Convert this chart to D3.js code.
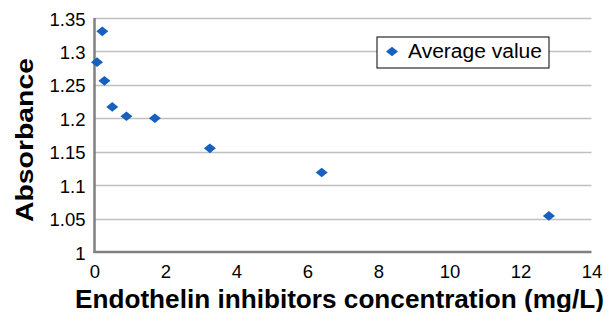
<!DOCTYPE html>
<html><head><meta charset="utf-8">
<script src="https://cdn.jsdelivr.net/npm/d3@7"></script>
<style>body{margin:0;background:#fff}svg{display:block}</style>
</head><body>
<svg id="c" width="610" height="312"></svg>
<script>
const xValues = [0.07, 0.22, 0.28, 0.5, 0.9, 1.7, 3.25, 6.4, 12.8];
const yValues = [1.284, 1.33, 1.256, 1.217, 1.203, 1.2, 1.155, 1.119, 1.054];
const xTicks = [0, 2, 4, 6, 8, 10, 12, 14];
const yTicks = [1, 1.05, 1.1, 1.15, 1.2, 1.25, 1.3, 1.35];
const seriesName = "Average value";
const xTitle = "Endothelin inhibitors concentration (mg/L)";
const yTitle = "Absorbance";

const svg = d3.select("#c");
const L = 94.5, R = 591.5, T = 18, B = 252;
const x = d3.scaleLinear().domain([0, 14]).range([L, R]);
const y = d3.scaleLinear().domain([1, 1.35]).range([B, T]);
const font = "Liberation Sans, Arial, sans-serif";

// gridlines
svg.append("g").selectAll("line").data(yTicks.slice(1)).join("line")
  .attr("x1", L).attr("x2", R)
  .attr("y1", d => Math.round(y(d)) + 0.5).attr("y2", d => Math.round(y(d)) + 0.5)
  .attr("stroke", "#c0c0c0").attr("stroke-width", 1.5);

// axes
const yAxis = svg.append("g").attr("transform", `translate(${L},0)`)
  .call(d3.axisLeft(y).tickValues(yTicks).tickSize(0).tickPadding(9).tickFormat(d => String(+d.toFixed(2))));
const xAxis = svg.append("g").attr("transform", `translate(0,${B})`)
  .call(d3.axisBottom(x).tickValues(xTicks).tickSize(0).tickPadding(0));
[yAxis, xAxis].forEach(g => {
  g.select(".domain").remove();
  g.selectAll("text").attr("font-family", font).attr("font-size", 18.5).attr("fill", "#000");
});
yAxis.selectAll("text").attr("dy", null).attr("y", 7);
xAxis.selectAll("text").attr("dy", null).attr("y", 25.5);
svg.append("line").attr("x1", L).attr("x2", L).attr("y1", T).attr("y2", B + 1)
  .attr("stroke", "#808080").attr("stroke-width", 2.5);
svg.append("line").attr("x1", L - 1).attr("x2", R).attr("y1", B).attr("y2", B)
  .attr("stroke", "#808080").attr("stroke-width", 2.5);

// diamonds
const diamond = d3.symbol().type(d3.symbolDiamond2).size(76)();
svg.append("g").selectAll("path").data(xValues.map((d, i) => [d, yValues[i]])).join("path")
  .attr("d", diamond)
  .attr("transform", d => `translate(${x(d[0])},${y(d[1])}) scale(1.1,0.88)`)
  .attr("fill", "#1760be");

// legend
const lg = svg.append("g");
lg.append("rect").attr("x", 377).attr("y", 37).attr("width", 172).attr("height", 31)
  .attr("fill", "#fff").attr("stroke", "#000").attr("stroke-width", 1);
lg.append("path").attr("d", diamond).attr("transform", "translate(392,51.5) scale(1.1,0.88)").attr("fill", "#1760be");
lg.append("text").attr("x", 408).attr("y", 57.5).attr("font-family", font).attr("font-size", 20)
  .attr("textLength", 134).attr("lengthAdjust", "spacingAndGlyphs").text(seriesName);

// titles
svg.append("text").attr("x", 339.5).attr("y", 307.5).attr("text-anchor", "middle")
  .attr("font-family", font).attr("font-size", 26).attr("font-weight", "bold")
  .attr("textLength", 529).attr("lengthAdjust", "spacingAndGlyphs").text(xTitle);
svg.append("text").attr("transform", "translate(33,140) rotate(-90)").attr("text-anchor", "middle")
  .attr("font-family", font).attr("font-size", 23).attr("font-weight", "bold")
  .attr("textLength", 164).attr("lengthAdjust", "spacingAndGlyphs").text(yTitle);
</script>
</body></html>
